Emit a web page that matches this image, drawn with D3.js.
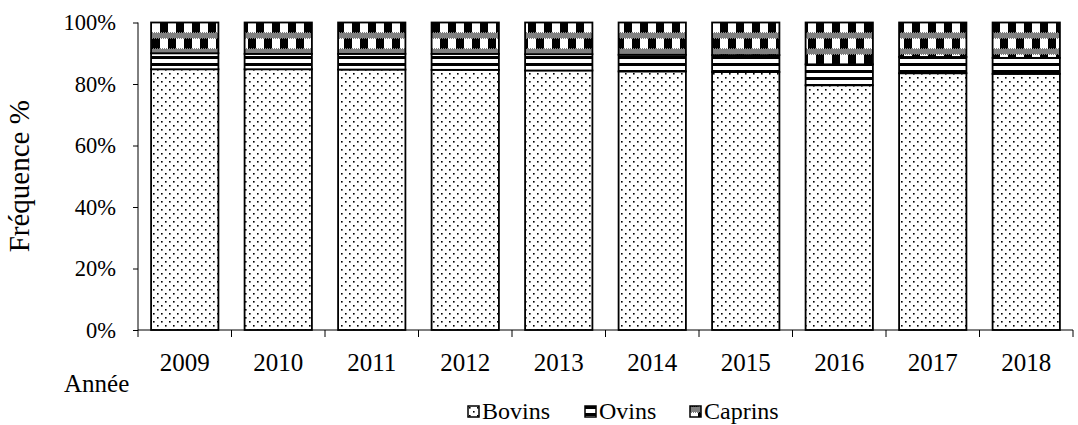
<!DOCTYPE html>
<html>
<head>
<meta charset="utf-8">
<script src="https://cdn.jsdelivr.net/npm/d3@7"></script>
<style>
  body { margin: 0; background: #fff; }
  svg { font-family: "Liberation Serif", "Times New Roman", serif; }
</style>
</head>
<body>
<svg id="chart" width="1078" height="425"></svg>
<script>
  const years = ["2009", "2010", "2011", "2012", "2013", "2014", "2015", "2016", "2017", "2018"];
  const bovins = [84.8, 84.8, 84.7, 84.6, 84.4, 84.1, 83.9, 79.6, 83.5, 83.3];
  const ovins = [5.2, 5.0, 5.1, 5.2, 5.3, 5.4, 5.5, 6.8, 5.3, 5.2];
  const caprins = [10.0, 10.2, 10.2, 10.2, 10.3, 10.5, 10.6, 13.6, 11.2, 11.5];
  const seriesNames = ["Bovins", "Ovins", "Caprins"];
  const yTicks = [0, 20, 40, 60, 80, 100];

  const rows = years.map((y, i) => ({ year: y, Bovins: bovins[i], Ovins: ovins[i], Caprins: caprins[i] }));

  const svg = d3.select("#chart");
  const mLeft = 138, mRight = 1073, mTop = 22.5, mBottom = 330;

  const x = d3.scaleBand().domain(years).range([mLeft, mRight]).paddingInner(0.28).paddingOuter(0.14);
  const y = d3.scaleLinear().domain([0, 100]).range([mBottom, mTop]);

  // motifs
  const defs = svg.append("defs");

  // Bovins : petits points en quinconce
  const pb = defs.append("pattern").attr("id", "p-bovins").attr("patternUnits", "userSpaceOnUse")
    .attr("width", 8).attr("height", 8);
  pb.append("rect").attr("width", 8).attr("height", 8).attr("fill", "#fff");
  pb.append("rect").attr("x", 1).attr("y", 1).attr("width", 1.6).attr("height", 1.6).attr("fill", "#000");
  pb.append("rect").attr("x", 5).attr("y", 5).attr("width", 1.6).attr("height", 1.6).attr("fill", "#000");

  // Ovins : rayures horizontales
  const po = defs.append("pattern").attr("id", "p-ovins").attr("patternUnits", "userSpaceOnUse")
    .attr("width", 8).attr("height", 7);
  po.append("rect").attr("width", 8).attr("height", 7).attr("fill", "#fff");
  po.append("rect").attr("y", 0).attr("width", 8).attr("height", 3).attr("fill", "#000");

  // Caprins : grands pavés en damier + bandes de petit damier
  const pc = defs.append("pattern").attr("id", "p-caprins").attr("patternUnits", "userSpaceOnUse")
    .attr("width", 16).attr("height", 32).attr("y", mTop);
  pc.append("rect").attr("width", 16).attr("height", 32).attr("fill", "#fff");
  pc.append("rect").attr("x", 0).attr("y", 0).attr("width", 8).attr("height", 10).attr("fill", "#000");
  pc.append("rect").attr("x", 8).attr("y", 16).attr("width", 8).attr("height", 10).attr("fill", "#000");
  [10, 26].forEach(by => {
    for (let cx = 0; cx < 16; cx++) {
      for (let cy = 0; cy < 6; cy++) {
        if ((cx + cy) % 2 === 0) {
          pc.append("rect").attr("x", cx).attr("y", by + cy).attr("width", 1).attr("height", 1).attr("fill", "#000");
        }
      }
    }
  });

  const fills = { Bovins: "url(#p-bovins)", Ovins: "url(#p-ovins)", Caprins: "url(#p-caprins)" };

  const stacked = d3.stack().keys(seriesNames)(rows);

  svg.append("g")
    .selectAll("g")
    .data(stacked)
    .join("g")
    .attr("fill", d => fills[d.key])
    .selectAll("rect")
    .data(d => d)
    .join("rect")
    .attr("x", d => x(d.data.year))
    .attr("y", d => y(d[1]))
    .attr("width", x.bandwidth())
    .attr("height", d => y(d[0]) - y(d[1]))
    .attr("stroke", "#000")
    .attr("stroke-width", 1.8);

  // axe y
  const yAxis = svg.append("g")
    .attr("transform", `translate(${mLeft},0)`)
    .call(d3.axisLeft(y).tickValues(yTicks).tickFormat(d => d + "%").tickSize(5).tickPadding(17));
  yAxis.select(".domain").attr("d", `M0,${mTop}V${mBottom + 7}`);
  yAxis.selectAll("text").attr("font-size", 22.5).attr("font-family", "Liberation Serif").attr("fill", "#000");

  // axe x
  const xAxis = svg.append("g").attr("transform", `translate(0,${mBottom})`);
  xAxis.append("line").attr("x1", mLeft).attr("x2", mRight).attr("stroke", "#000");
  const step = x.step();
  xAxis.selectAll("line.tick")
    .data(years)
    .join("line")
    .attr("class", "tick")
    .attr("x1", d => x(d) + x.bandwidth() + (step - x.bandwidth()) / 2)
    .attr("x2", d => x(d) + x.bandwidth() + (step - x.bandwidth()) / 2)
    .attr("y1", 0).attr("y2", 7).attr("stroke", "#000");
  xAxis.selectAll("text")
    .data(years)
    .join("text")
    .attr("x", d => x(d) + x.bandwidth() / 2)
    .attr("y", 41)
    .attr("text-anchor", "middle")
    .attr("font-size", 25)
    .text(d => d);

  svg.append("text").attr("x", 64).attr("y", 392).attr("font-size", 25).text("Année");

  svg.append("text")
    .attr("transform", `translate(29,${(mTop + mBottom) / 2}) rotate(-90)`)
    .attr("text-anchor", "middle")
    .attr("font-size", 29)
    .text("Fréquence %");

  // légende
  const legendX = [468, 585, 690];
  const legend = svg.append("g").selectAll("g")
    .data(seriesNames)
    .join("g")
    .attr("transform", (d, i) => `translate(${legendX[i]},406)`);
  legend.append("rect").attr("width", 11).attr("height", 11).attr("fill", d => fills[d])
    .attr("stroke", "#000").attr("stroke-width", 1.5);
  legend.append("text").attr("x", 14).attr("y", 13).attr("font-size", 24).text(d => d);
</script>
</body>
</html>
